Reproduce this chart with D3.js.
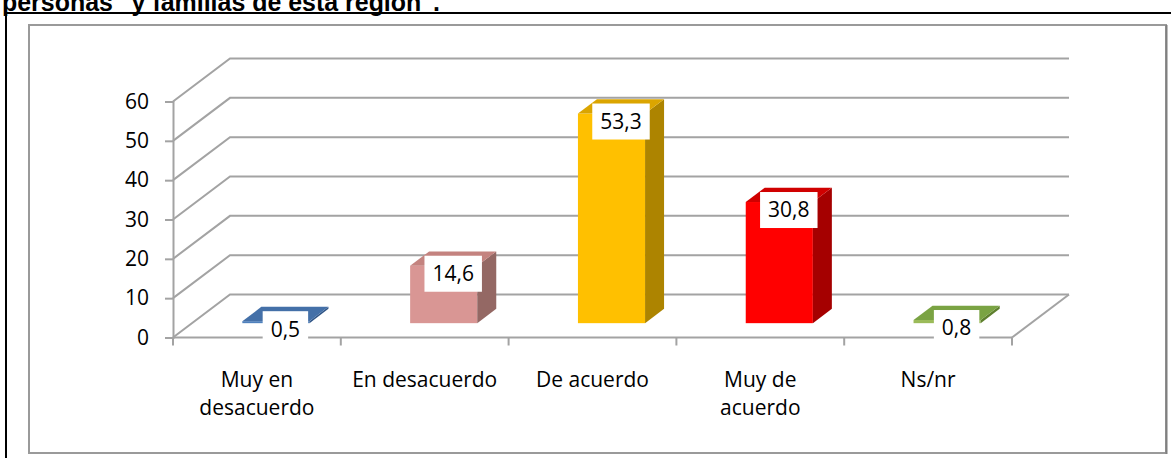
<!DOCTYPE html>
<html>
<head>
<meta charset="utf-8">
<script src="https://cdn.jsdelivr.net/npm/d3@7"></script>
<style>
  html, body { margin: 0; padding: 0; background: #fff; }
  svg { display: block; }
</style>
</head>
<body>
<svg id="chart" width="1171" height="458"></svg>
<script>
const titleText = "personas\" y familias de esta región\".";
const categories = [["Muy en", "desacuerdo"], ["En desacuerdo"], ["De acuerdo"], ["Muy de", "acuerdo"], ["Ns/nr"]];
const catKeys = ["Muy en desacuerdo", "En desacuerdo", "De acuerdo", "Muy de acuerdo", "Ns/nr"];
const values = [0.5, 14.6, 53.3, 30.8, 0.8];
const valueLabels = ["0,5", "14,6", "53,3", "30,8", "0,8"];
const yTicks = [0, 10, 20, 30, 40, 50, 60];
const frontColors = ["#4F81BD", "#D99694", "#FFC000", "#FF0000", "#9BBB59"];
const topColors = ["#4470A8", "#C4837F", "#DBA500", "#D00000", "#7AA343"];
const sideColors = ["#2F5486", "#946864", "#AD8400", "#A50000", "#5E7F2E"];

const svg = d3.select("#chart");
const FONT = "'Open Sans', 'Noto Sans', sans-serif";

// outer frame
svg.append("rect").attr("x", 6).attr("y", 13).attr("width", 1200).attr("height", 500)
  .attr("fill", "none").attr("stroke", "#000").attr("stroke-width", 2);

// title (cropped at top, as in the reference)
const title = svg.append("text").attr("x", 2).attr("y", 11)
  .attr("font-family", "'Liberation Sans', Arial, sans-serif").attr("font-weight", "bold")
  .attr("font-size", 26).attr("fill", "#000").text(titleText);
title.attr("textLength", 438).attr("lengthAdjust", "spacingAndGlyphs");

// chart area border
svg.append("rect").attr("x", 29).attr("y", 25).attr("width", 1137).attr("height", 428)
  .attr("fill", "#fff").attr("stroke", "#9a9a9a").attr("stroke-width", 2);
svg.append("line").attr("x1", 1166.5).attr("x2", 1166.5).attr("y1", 25).attr("y2", 454)
  .attr("stroke", "#7f7f7f").attr("stroke-width", 2);

const x0 = 173, x1 = 1012;
const DX = 57, DY = -43;
const x = d3.scaleBand().domain(catKeys).range([x0, x1]).paddingInner(0).paddingOuter(0);
const y = d3.scaleLinear().domain([0, 60]).range([337.5, 101.5]);

const gridColor = "#a3a3a3";
const grid = svg.append("g").attr("stroke", gridColor).attr("stroke-width", 2).attr("fill", "none");
yTicks.forEach(v => {
  grid.append("path").attr("d", `M${x0},${y(v)}L${x0 + DX},${y(v) + DY}L${x1 + DX},${y(v) + DY}`);
});
// floor right edge
grid.append("path").attr("d", `M${x1},${y(0)}L${x1 + DX},${y(0) + DY}`);

// left axis
const yAxis = d3.axisLeft(y).tickValues(yTicks).tickSize(8).tickPadding(16);
const gy = svg.append("g").attr("transform", `translate(${x0},0)`).call(yAxis);
gy.select(".domain").attr("stroke", gridColor).attr("stroke-width", 2);
gy.selectAll(".tick line").attr("stroke", gridColor).attr("stroke-width", 2);
gy.selectAll(".tick text").attr("font-family", FONT).attr("font-size", 21).attr("fill", "#000");

// bottom axis: floor front edge with ticks at band boundaries
const bottom = svg.append("g").attr("stroke", gridColor).attr("stroke-width", 2);
bottom.append("line").attr("x1", x0).attr("x2", x1).attr("y1", y(0)).attr("y2", y(0));
const bounds = catKeys.map(k => x(k)).concat([x1]);
bounds.forEach(b => {
  bottom.append("line").attr("x1", b).attr("x2", b).attr("y1", y(0)).attr("y2", y(0) + 8);
});

// category labels
const cl = svg.append("g").attr("font-family", FONT).attr("font-size", 21).attr("fill", "#000").attr("text-anchor", "middle");
categories.forEach((lines, i) => {
  const t = cl.append("text").attr("x", x(catKeys[i]) + x.bandwidth() / 2).attr("y", 387);
  lines.forEach((ln, j) => t.append("tspan").attr("x", x(catKeys[i]) + x.bandwidth() / 2).attr("dy", j === 0 ? 0 : 28).text(ln));
});

// bars
const bw = x.bandwidth() * 0.4;
const ddx = DX / 3, ddy = DY / 3;
const bars = svg.append("g");
values.forEach((v, i) => {
  const cx = x(catKeys[i]) + x.bandwidth() / 2 + ddx;
  const xl = cx - bw / 2, xr = cx + bw / 2;
  const yt = y(v) + ddy, yb = y(0) + ddy;
  bars.append("rect").attr("x", xl).attr("y", yt).attr("width", bw).attr("height", yb - yt).attr("fill", frontColors[i]);
  bars.append("path").attr("d", `M${xr},${yb}L${xr + ddx},${yb + ddy}L${xr + ddx},${yt + ddy}L${xr},${yt}Z`).attr("fill", sideColors[i]);
  bars.append("path").attr("d", `M${xl},${yt}L${xl + ddx},${yt + ddy}L${xr + ddx},${yt + ddy}L${xr},${yt}Z`).attr("fill", topColors[i]);
});

// value labels
const lbl = svg.append("g");
values.forEach((v, i) => {
  const cx = x(catKeys[i]) + x.bandwidth() / 2 + ddx + ddx / 2;
  const cy = y(v) + ddy + 8;
  const g = lbl.append("g");
  const r = g.append("rect").attr("fill", "#fff");
  const t = g.append("text").attr("x", cx).attr("y", cy).attr("dy", "0.35em")
    .attr("text-anchor", "middle").attr("font-family", FONT).attr("font-size", 21).attr("fill", "#000")
    .text(valueLabels[i]);
  const w = t.node().getComputedTextLength() + 16;
  r.attr("x", cx - w / 2).attr("y", cy - 18).attr("width", w).attr("height", 36);
});
</script>
</body>
</html>
